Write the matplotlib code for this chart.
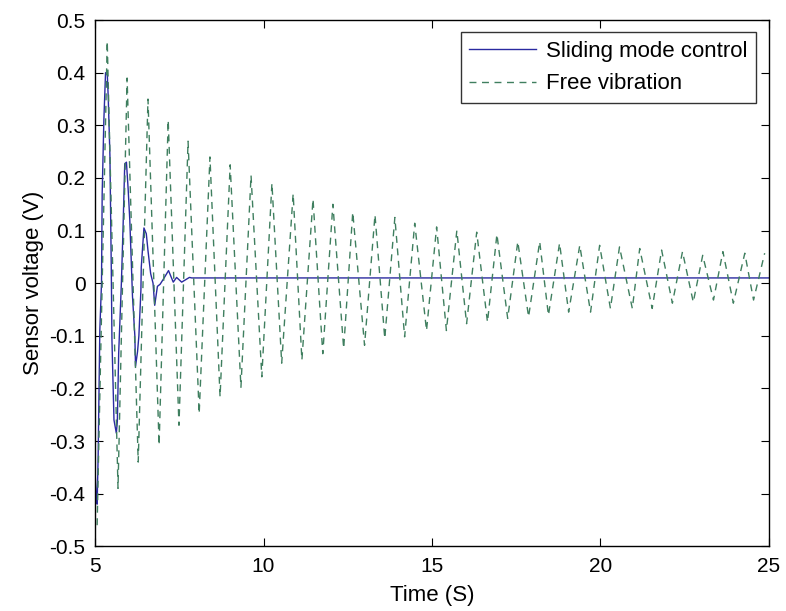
import matplotlib
matplotlib.use("Agg")
import matplotlib.pyplot as plt

# ===============================
# Data
# ===============================
# Free vibration: alternating trough / peak extrema (time in s, voltage in V)
trough_t = [5.06, 5.68, 6.28, 6.90, 7.49, 8.09, 8.71, 9.33, 9.95, 10.54, 11.14,
            11.76, 12.38, 13.00, 13.60, 14.19, 14.84, 15.43, 16.03, 16.65, 17.25,
            17.87, 18.46, 19.06, 19.71, 20.30, 20.95, 21.54, 22.14, 22.76, 23.36,
            23.95, 24.55]
trough_v = [-0.46, -0.39, -0.34, -0.308, -0.27, -0.248, -0.216, -0.198, -0.178,
            -0.152, -0.146, -0.134, -0.124, -0.118, -0.105, -0.102, -0.09, -0.09,
            -0.077, -0.074, -0.067, -0.064, -0.061, -0.055, -0.055, -0.048, -0.048,
            -0.048, -0.038, -0.036, -0.032, -0.038, -0.032]
peak_t = [5.36, 5.95, 6.57, 7.17, 7.76, 8.41, 9.01, 9.63, 10.25, 10.88, 11.47,
          12.06, 12.65, 13.31, 13.90, 14.49, 15.14, 15.74, 16.33, 16.93, 17.55,
          18.20, 18.79, 19.39, 19.98, 20.57, 21.17, 21.82, 22.44, 23.04, 23.64,
          24.29, 24.88]
peak_v = [0.46, 0.39, 0.35, 0.31, 0.27, 0.24, 0.225, 0.205, 0.19, 0.17, 0.16,
          0.15, 0.135, 0.13, 0.125, 0.114, 0.107, 0.10, 0.097, 0.093, 0.079,
          0.079, 0.076, 0.072, 0.072, 0.069, 0.066, 0.063, 0.06, 0.053, 0.06,
          0.057, 0.057]

# Sliding mode control response
smc_t = [5.00, 5.03, 5.06, 5.09, 5.14, 5.19, 5.21, 5.26, 5.31, 5.36, 5.39, 5.44,
         5.48, 5.50, 5.56, 5.63, 5.66, 5.70, 5.78, 5.83, 5.88, 5.93, 5.98, 6.03,
         6.08, 6.11, 6.18, 6.20, 6.26, 6.30, 6.36, 6.37, 6.45, 6.52, 6.57, 6.65,
         6.72, 6.77, 6.85, 6.93, 7.03, 7.18, 7.32, 7.42, 7.57, 7.80, 7.87, 25.0]
smc_v = [-0.36, -0.40, -0.42, -0.33, -0.089, 0.0, 0.17, 0.31, 0.40, 0.40, 0.353,
         0.242, 0.03, -0.108, -0.26, -0.285, -0.263, -0.133, 0.0, 0.106, 0.227,
         0.23, 0.18, 0.12, 0.03, -0.025, -0.10, -0.158, -0.13, -0.10, -0.013,
         0.03, 0.105, 0.094, 0.062, 0.018, 0.0, -0.042, -0.006, -0.002, 0.008,
         0.024, 0.002, 0.011, 0.002, 0.011, 0.01, 0.01]

# interleave troughs and peaks into one trace
free_t = [t for pair in zip(trough_t, peak_t) for t in pair]
free_v = [v for pair in zip(trough_v, peak_v) for v in pair]

# ===============================
# Plot
# ===============================
plt.rcParams['font.family'] = ['Liberation Sans', 'DejaVu Sans']

fig = plt.figure(figsize=(7.86, 6.11), dpi=100)
ax = fig.add_axes([0.121, 0.106, 0.857, 0.861])

ax.plot(smc_t, smc_v, color='#2a2aa0', lw=1.0, label='Sliding mode control')
ax.plot(free_t, free_v, color='#3f7f5f', lw=1.0, ls=(0, (5, 4)),
        label='Free vibration')

ax.set_xlim(5, 25)
ax.set_ylim(-0.5, 0.5)
ax.set_xticks([5, 10, 15, 20, 25])
ax.set_yticks([-0.5, -0.4, -0.3, -0.2, -0.1, 0, 0.1, 0.2, 0.3, 0.4, 0.5])
ax.set_yticklabels(['-0.5', '-0.4', '-0.3', '-0.2', '-0.1', '0',
                    '0.1', '0.2', '0.3', '0.4', '0.5'])
ax.tick_params(direction='in', top=True, right=True, labelsize=15, length=6)
ax.tick_params(axis='x', pad=8)
ax.tick_params(axis='y', pad=7)
for s in ax.spines.values():
    s.set_linewidth(1.0)

ax.set_xlabel('Time (S)', fontsize=16, labelpad=6)
ax.set_ylabel('Sensor voltage (V)', fontsize=16, labelpad=4)

leg = ax.legend(loc='upper right', fontsize=16, frameon=True, fancybox=False,
                edgecolor='black', borderaxespad=0.55, handlelength=3.0,
                handletextpad=0.45, borderpad=0.4, labelspacing=0.5)
leg.get_frame().set_linewidth(1.0)

fig.savefig('out.png', dpi=100)
